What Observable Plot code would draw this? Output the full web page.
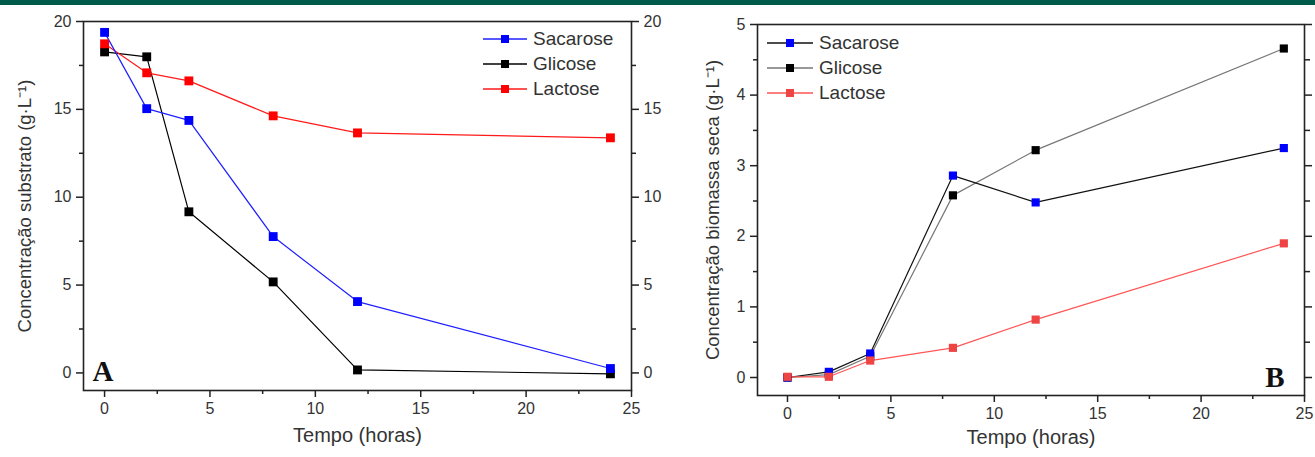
<!DOCTYPE html>
<html>
<head>
<meta charset="utf-8">
<script src="https://cdn.jsdelivr.net/npm/d3@7"></script>
<script src="https://cdn.jsdelivr.net/npm/@observablehq/plot@0.6"></script>
<style>
  html, body { margin: 0; padding: 0; background: #fff; }
  #wrap { position: relative; width: 1315px; height: 457px; overflow: hidden; background: #fff; }
  #bar { position: absolute; left: 0; top: 0; width: 1315px; height: 5px; background: #005a4b; }
  .panel { position: absolute; top: 0; }
  .legend { position: absolute; font-family: "Liberation Sans", Arial, sans-serif; font-size: 19px; color: #333; }
  .legend .row { display: flex; align-items: center; height: 25px; }
  .legend svg { margin-right: 6px; }
</style>
</head>
<body>
<div id="wrap">
  <div id="panelA" class="panel" style="left:0px"></div>
  <div id="panelB" class="panel" style="left:657px"></div>
  <div id="legendA" class="legend" style="left:483px; top:26px"></div>
  <div id="legendB" class="legend" style="left:767px; top:30px"></div>
  <div id="bar"></div>
</div>
<script>
// ---- data ----
const hours = [0, 2, 4, 8, 12, 24];
const seriesNames = ["Sacarose", "Glicose", "Lactose"];

// Panel A: substrate concentration (g/L)
const substrateSacarose = [19.38, 15.04, 14.37, 7.76, 4.06, 0.25];
const substrateGlicose  = [18.27, 17.99, 9.17, 5.18, 0.17, -0.05];
const substrateLactose  = [18.73, 17.08, 16.62, 14.63, 13.66, 13.38];

// Panel B: dry biomass concentration (g/L)
const biomassSacarose = [0.0, 0.08, 0.34, 2.86, 2.48, 3.25];
const biomassGlicose  = [0.0, 0.04, 0.30, 2.58, 3.22, 4.66];
const biomassLactose  = [0.01, 0.01, 0.24, 0.42, 0.82, 1.90];

// tick labels
const xTicks = [0, 5, 10, 15, 20, 25];
const xMinor = [2.5, 7.5, 12.5, 17.5, 22.5];
const yTicksA = [0, 5, 10, 15, 20];
const yMinorA = [2.5, 7.5, 12.5, 17.5];
const yTicksB = [0, 1, 2, 3, 4, 5];
const yMinorB = [0.5, 1.5, 2.5, 3.5, 4.5];

// styles
const lineColorsA = {Sacarose: "#1f1fff", Glicose: "#000000", Lactose: "#ff1a1a"};
const markColorsA = {Sacarose: "#0000ff", Glicose: "#000000", Lactose: "#ff0000"};
const lineColorsB = {Sacarose: "#111111", Glicose: "#777777", Lactose: "#ff5555"};
const markColorsB = {Sacarose: "#0000ff", Glicose: "#000000", Lactose: "#ee4444"};

const FONT = "'Liberation Sans', Arial, sans-serif";
const TXT = "#333";
const fmt = d => String(d);

function rows(vals) { return hours.map((t, i) => ({t, v: vals[i]})); }

function seriesMarks(valuesByName, order, lineColors, markColors, r) {
  const marks = [];
  for (const name of order) {
    marks.push(Plot.line(rows(valuesByName[name]), {x: "t", y: "v", stroke: lineColors[name], strokeWidth: 1.2}));
  }
  for (const name of order) {
    marks.push(Plot.dot(rows(valuesByName[name]), {x: "t", y: "v", symbol: "square", r, fill: markColors[name], stroke: "none"}));
  }
  return marks;
}

// ---- Panel A ----
const plotA = Plot.plot({
  width: 660, height: 457,
  marginLeft: 83, marginRight: 29, marginTop: 21, marginBottom: 67,
  x: {domain: [-1, 25]},
  y: {domain: [-1, 20]},
  style: {fontFamily: FONT, fontSize: "16px", color: TXT, background: "transparent", overflow: "visible"},
  marks: [
    Plot.frame({stroke: "#222", strokeWidth: 1.6}),
    Plot.axisX({ticks: xTicks, tickFormat: fmt, tickSize: 7, tickPadding: 5, label: null, stroke: "#222", strokeWidth: 1.5, fill: TXT}),
    Plot.axisX({ticks: xMinor, tickSize: 4, text: null, label: null, stroke: "#222", strokeWidth: 1.5}),
    Plot.axisY({anchor: "left", ticks: yTicksA, tickFormat: fmt, tickSize: 7, tickPadding: 5, label: null, stroke: "#222", strokeWidth: 1.5, fill: TXT}),
    Plot.axisY({anchor: "left", ticks: yMinorA, tickSize: 4, text: null, label: null, stroke: "#222", strokeWidth: 1.5}),
    Plot.axisY({anchor: "right", ticks: yTicksA, tickFormat: fmt, tickSize: 7, tickPadding: 5, label: null, stroke: "#222", strokeWidth: 1.5, fill: TXT}),
    Plot.axisY({anchor: "right", ticks: yMinorA, tickSize: 4, text: null, label: null, stroke: "#222", strokeWidth: 1.5}),
    Plot.text(["Tempo (horas)"], {frameAnchor: "bottom", textAnchor: "middle", dy: 51, fontSize: 20, fill: TXT}),
    Plot.text(["Concentração substrato (g·L⁻¹)"], {frameAnchor: "left", textAnchor: "middle", dx: -58, rotate: -90, fontSize: 18.5, fill: TXT}),
    Plot.text(["A"], {frameAnchor: "bottom-left", textAnchor: "start", lineAnchor: "bottom", dx: 9, dy: -10, fontFamily: "'Liberation Serif', 'Times New Roman', serif", fontWeight: "bold", fontSize: 29, fill: "#111"}),
    ...seriesMarks({Sacarose: substrateSacarose, Glicose: substrateGlicose, Lactose: substrateLactose},
                   ["Glicose", "Lactose", "Sacarose"], lineColorsA, markColorsA, 5)
  ]
});
document.getElementById("panelA").appendChild(plotA);

// ---- Panel B ----
const plotB = Plot.plot({
  width: 658, height: 457,
  marginLeft: 100, marginRight: 11, marginTop: 24, marginBottom: 62,
  x: {domain: [-1.45, 25]},
  y: {domain: [-0.255, 5]},
  style: {fontFamily: FONT, fontSize: "16px", color: TXT, background: "transparent", overflow: "visible"},
  marks: [
    Plot.frame({stroke: "#222", strokeWidth: 1.6}),
    Plot.axisX({ticks: xTicks, tickFormat: fmt, tickSize: 7, tickPadding: 5, label: null, stroke: "#222", strokeWidth: 1.5, fill: TXT}),
    Plot.axisX({ticks: xMinor, tickSize: 4, text: null, label: null, stroke: "#222", strokeWidth: 1.5}),
    Plot.axisY({anchor: "left", ticks: yTicksB, tickFormat: fmt, tickSize: 7, tickPadding: 5, label: null, stroke: "#222", strokeWidth: 1.5, fill: TXT}),
    Plot.axisY({anchor: "left", ticks: yMinorB, tickSize: 4, text: null, label: null, stroke: "#222", strokeWidth: 1.5}),
    Plot.axisY({anchor: "right", ticks: yTicksB, tickSize: 7, text: null, label: null, stroke: "#222", strokeWidth: 1.5}),
    Plot.axisY({anchor: "right", ticks: yMinorB, tickSize: 5, text: null, label: null, stroke: "#222", strokeWidth: 1.5}),
    Plot.text(["Tempo (horas)"], {frameAnchor: "bottom", textAnchor: "middle", dy: 48, fontSize: 20, fill: TXT}),
    Plot.text(["Concentração biomassa seca (g·L⁻¹)"], {frameAnchor: "left", textAnchor: "middle", dx: -44, rotate: -90, fontSize: 18.5, fill: TXT}),
    Plot.text(["B"], {frameAnchor: "bottom-right", textAnchor: "end", lineAnchor: "bottom", dx: -20, dy: -9, fontFamily: "'Liberation Serif', 'Times New Roman', serif", fontWeight: "bold", fontSize: 29, fill: "#111"}),
    ...seriesMarks({Sacarose: biomassSacarose, Glicose: biomassGlicose, Lactose: biomassLactose},
                   ["Glicose", "Sacarose", "Lactose"], lineColorsB, markColorsB, 4.6)
  ]
});
document.getElementById("panelB").appendChild(plotB);

// ---- Legends ----
function legend(el, lineColors, markColors, lineW, sq) {
  for (const name of seriesNames) {
    const row = document.createElement("div");
    row.className = "row";
    row.innerHTML =
      `<svg width="${lineW}" height="12"><line x1="0" x2="${lineW}" y1="6" y2="6" stroke="${lineColors[name]}" stroke-width="1.3"/>` +
      `<rect x="${lineW/2 - sq/2}" y="${6 - sq/2}" width="${sq}" height="${sq}" fill="${markColors[name]}"/></svg>` +
      `<span>${name}</span>`;
    el.appendChild(row);
  }
}
legend(document.getElementById("legendA"), lineColorsA, markColorsA, 44, 8);
legend(document.getElementById("legendB"), lineColorsB, markColorsB, 46, 8);
</script>
</body>
</html>
